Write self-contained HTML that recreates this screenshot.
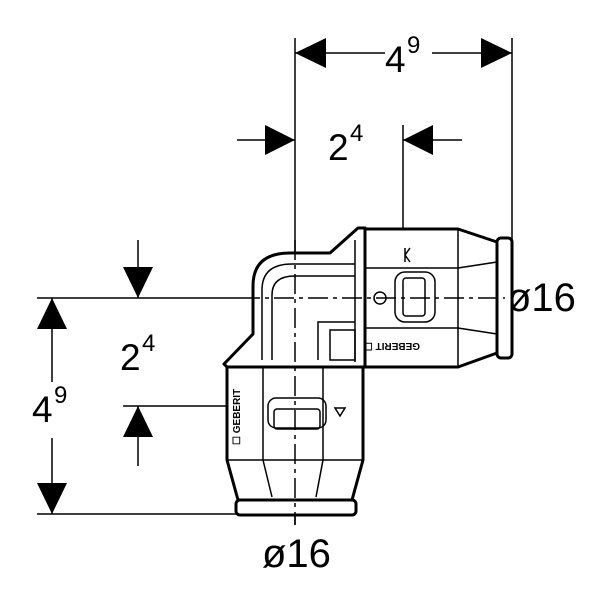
<!DOCTYPE html>
<html><head><style>html,body{margin:0;padding:0;background:#fff}svg{display:block}</style></head><body>
<svg width="600" height="600" viewBox="0 0 600 600" xmlns="http://www.w3.org/2000/svg" font-family="Liberation Sans, sans-serif">
<g stroke="#000" stroke-width="1.5" fill="none">
<line x1="295" y1="38" x2="295" y2="525"/>
<line x1="512" y1="38" x2="512" y2="240"/>
<line x1="403" y1="125" x2="403" y2="262"/>
<line x1="37" y1="298" x2="240" y2="298"/>
<line x1="123" y1="406" x2="345" y2="406"/>
<line x1="37" y1="514" x2="237" y2="514"/>
<line x1="295" y1="53" x2="385" y2="53"/>
<line x1="432" y1="53" x2="512" y2="53"/>
<line x1="237" y1="140" x2="295" y2="140"/>
<line x1="403" y1="140" x2="462" y2="140"/>
<line x1="52" y1="298" x2="52" y2="382"/>
<line x1="52" y1="438" x2="52" y2="514"/>
<line x1="138" y1="240" x2="138" y2="298"/>
<line x1="138" y1="406" x2="138" y2="466"/>
</g>
<g fill="#000">
<polygon points="295,53 326,38 326,68"/>
<polygon points="512,53 481,38 481,68"/>
<polygon points="295,140 265,125 265,155"/>
<polygon points="403,140 433,125 433,155"/>
<polygon points="52,298 37,329 67,329"/>
<polygon points="52,514 37,483 67,483"/>
<polygon points="138,298 123,267 153,267"/>
<polygon points="138,406 123,437 153,437"/>
</g>
<g font-size="37" fill="#000">
<text x="385" y="72">4</text><text x="407" y="53" font-size="24">9</text>
<text x="328" y="160">2</text><text x="350" y="141" font-size="24">4</text>
<text x="120" y="370">2</text><text x="142" y="351" font-size="24">4</text>
<text x="32" y="422">4</text><text x="54" y="403" font-size="24">9</text>
<text x="507" y="311" font-size="40">ø16</text>
<text x="262" y="567" font-size="40">ø16</text>
</g>
<g stroke="#000" fill="#fff" stroke-width="3" stroke-linejoin="round">
<path d="M224,364 L253,334 L253,286 Q253,253 290,253 L330,253 L358,228 L365,228 L365,367 L227,367 Z"/>
<path d="M365,229 L458,229 L497,242 L497,353 L458,367 L365,367 Z"/>
<rect x="497" y="238" width="15" height="120" rx="4"/>
<path d="M227,367 L363,367 L363,460 L352,500 L238,500 L227,460 Z"/>
<rect x="236" y="500" width="120" height="15" rx="4"/>
</g>
<g stroke="#000" fill="none" stroke-width="1.5">
<path d="M262,360 L262,290 Q262,264 292,264 L355,264"/>
<path d="M272,360 L272,295 Q272,276 295,276 L355,276"/>
<path d="M318,360 L318,322 L355,322"/>
<path d="M330,360 L330,330 L355,330 L355,360 Z"/>
<line x1="355" y1="240" x2="355" y2="362"/>
<line x1="458" y1="229" x2="458" y2="367"/>
<line x1="365" y1="268" x2="458" y2="268"/>
<line x1="365" y1="328" x2="458" y2="328"/>
<line x1="458" y1="268" x2="497" y2="262"/>
<line x1="458" y1="328" x2="497" y2="334"/>
<rect x="395" y="272" width="40" height="50" rx="10"/>
<rect x="403" y="278" width="22" height="38" rx="3"/>
<circle cx="380" cy="298" r="6"/>
<line x1="227" y1="460" x2="363" y2="460"/>
<line x1="263" y1="367" x2="263" y2="460"/>
<line x1="323" y1="367" x2="323" y2="460"/>
<line x1="263" y1="460" x2="272" y2="497"/>
<line x1="323" y1="460" x2="316" y2="497"/>
<rect x="268" y="398" width="58" height="30" rx="8"/>
<rect x="274" y="409" width="46" height="20" rx="3"/>
<path d="M335,408 L345,408 L340,416 Z"/>
<path d="M405,248 L405,262 M410,248 L405,255 L410,262"/>
</g>
<line x1="240" y1="298" x2="505" y2="298" stroke="#000" stroke-width="1.5" stroke-dasharray="20,5,4,5"/>
<line x1="295" y1="240" x2="295" y2="525" stroke="#000" stroke-width="1.5" stroke-dasharray="20,5,4,5"/>
<text x="0" y="0" font-size="10" font-weight="bold" fill="#000" transform="translate(420,343) rotate(180)">GEBERIT ☐</text>
<text x="0" y="0" font-size="10" font-weight="bold" fill="#000" transform="translate(240,445) rotate(-90)">☐ GEBERIT</text>
</svg>
</body></html>
